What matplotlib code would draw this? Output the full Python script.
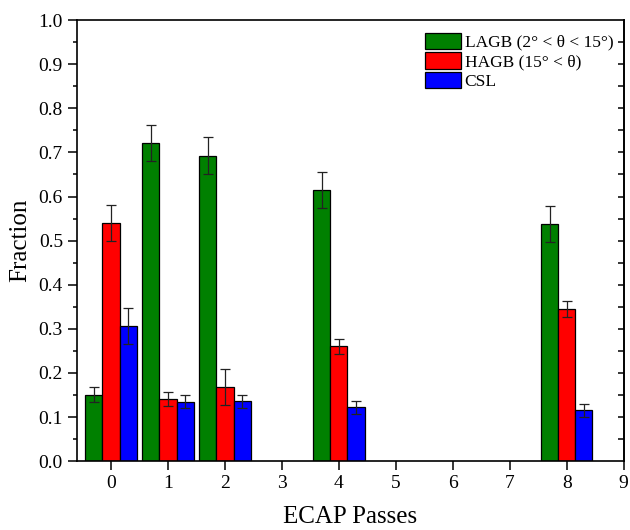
import numpy as np
import matplotlib.pyplot as plt
from matplotlib.ticker import MultipleLocator

plt.rcParams['font.family'] = ['Liberation Serif', 'DejaVu Serif']

# ECAP passes and grain boundary fractions
passes = np.array([0, 1, 2, 4, 8])
lagb = [0.151, 0.722, 0.693, 0.615, 0.537]
lagb_err = [0.016, 0.041, 0.041, 0.041, 0.041]
hagb = [0.540, 0.141, 0.168, 0.261, 0.345]
hagb_err = [0.041, 0.015, 0.041, 0.017, 0.018]
csl = [0.307, 0.135, 0.136, 0.122, 0.115]
csl_err = [0.041, 0.015, 0.015, 0.015, 0.015]
labels = ['LAGB (2\u00b0 < \u03b8 < 15\u00b0)', 'HAGB (15\u00b0 < \u03b8)', 'CSL']

fig = plt.figure(figsize=(6.3, 5.3), dpi=100)
ax = fig.add_axes([0.122, 0.130, 0.868, 0.832])

w = 0.3
err_kw = dict(ecolor='#222222', elinewidth=0.9, capsize=3.3, capthick=0.9)
ax.bar(passes - w, lagb, w, yerr=lagb_err, color='#008000', edgecolor='black',
       linewidth=0.9, label=labels[0], error_kw=err_kw)
ax.bar(passes, hagb, w, yerr=hagb_err, color='#ff0000', edgecolor='black',
       linewidth=0.9, label=labels[1], error_kw=err_kw)
ax.bar(passes + w, csl, w, yerr=csl_err, color='#0000ff', edgecolor='black',
       linewidth=0.9, label=labels[2], error_kw=err_kw)

ax.set_xlim(-0.6, 9)
ax.set_ylim(0, 1.0)
ax.set_xticks(range(10))
ax.yaxis.set_major_locator(MultipleLocator(0.1))
ax.yaxis.set_minor_locator(MultipleLocator(0.05))
ax.yaxis.set_major_formatter(plt.FormatStrFormatter('%.1f'))
ax.tick_params(axis='both', which='major', direction='out', length=6.5, width=1.1,
               labelsize=14)
ax.tick_params(axis='y', which='minor', direction='out', length=3, width=1.1)

# right side ticks, inward, no labels
sec = ax.secondary_yaxis('right')
sec.set_yticks(np.arange(0.05, 1.0, 0.05))
sec.tick_params(direction='in', length=4, width=1.1, labelright=False)
sec.spines['right'].set_linewidth(1.2)

for s in ax.spines.values():
    s.set_linewidth(1.2)

ax.set_xlabel('ECAP Passes', fontsize=18, labelpad=10)
ax.set_ylabel('Fraction', fontsize=18, labelpad=5)

ax.legend(loc='upper right', bbox_to_anchor=(1.0, 0.995), frameon=False,
          fontsize=12.5, handlelength=2.1, handleheight=1.05, labelspacing=0.1,
          handletextpad=0.2, borderaxespad=0.2)

fig.savefig('out.png', dpi=100)
